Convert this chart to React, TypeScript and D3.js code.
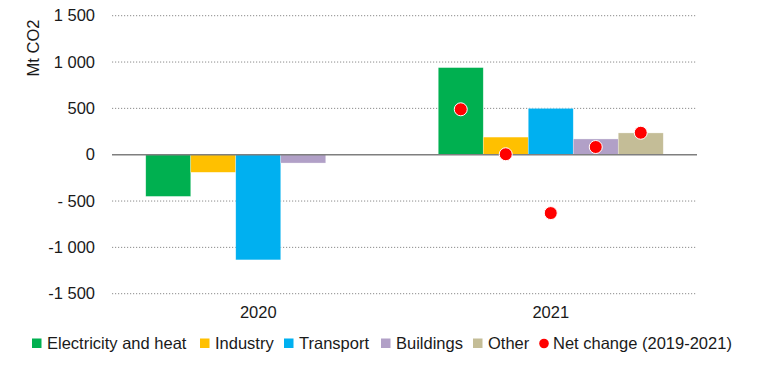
import React, { useEffect, useRef } from 'react';
import * as d3 from 'd3';

const years = ['2020', '2021'];
const sectors = ['Electricity and heat', 'Industry', 'Transport', 'Buildings', 'Other'];
const colors = ['#00B050', '#FFC000', '#00B0F0', '#B1A0C7', '#C4BD97'];

// change in emissions by sector, Mt CO2
const values2020 = [-450, -190, -1135, -90, 0];
const values2021 = [940, 190, 500, 170, 235];
const netChange2021 = [490, 5, -630, 83, 237];

const yTicks = [1500, 1000, 500, 0, -500, -1000, -1500];
const yTickLabels = ['1 500', '1 000', '500', '0', '- 500', '-1 000', '-1 500'];

const font = '"Liberation Sans", Arial, sans-serif';
const fontSize = 16.5;
const textColor = '#1a1a1a';

const App: React.FC = () => {
  const svgRef = useRef<SVGSVGElement>(null);

  useEffect(() => {
    if (!svgRef.current) return;
    const svg = d3.select(svgRef.current);
    svg.selectAll('*').remove();

    const width = 768;
    const height = 367;
    const margin = { top: 16, right: 71, bottom: 73, left: 112 };

    const x = d3.scaleBand<string>()
      .domain(years)
      .range([margin.left, width - margin.right])
      .padding(0);

    const xInner = d3.scaleBand<string>()
      .domain(sectors)
      .range([0, x.bandwidth()])
      .paddingInner(0)
      .paddingOuter(0.75);

    const y = d3.scaleLinear()
      .domain([-1500, 1500])
      .range([height - margin.bottom - 0.3, margin.top - 0.3]);

    // gridlines
    svg.append('g')
      .selectAll('line')
      .data(yTicks.filter(d => d !== 0))
      .enter().append('line')
      .attr('x1', margin.left)
      .attr('x2', width - margin.right)
      .attr('y1', d => y(d))
      .attr('y2', d => y(d))
      .attr('stroke', '#8c8c8c')
      .attr('stroke-width', 1)
      .attr('stroke-dasharray', '1.2,1.8');

    // y tick labels
    svg.append('g')
      .selectAll('text')
      .data(yTicks)
      .enter().append('text')
      .attr('x', 95)
      .attr('y', d => y(d))
      .attr('dy', '0.35em')
      .attr('text-anchor', 'end')
      .attr('font-family', font)
      .attr('font-size', fontSize)
      .attr('fill', textColor)
      .text((d, i) => yTickLabels[i]);

    svg.append('text')
      .attr('transform', 'translate(39,48) rotate(-90)')
      .attr('text-anchor', 'middle')
      .attr('font-family', font)
      .attr('font-size', fontSize)
      .attr('fill', textColor)
      .text('Mt CO2');

    const series = [values2020, values2021];

    years.forEach((year, yi) => {
      const g = svg.append('g').attr('transform', `translate(${x(year)},0)`);
      g.selectAll('rect')
        .data(series[yi].map((v, i) => ({ v, i })).filter(d => d.v !== 0))
        .enter().append('rect')
        .attr('x', d => xInner(sectors[d.i]) as number)
        .attr('width', xInner.bandwidth())
        .attr('y', d => y(Math.max(0, d.v)))
        .attr('height', d => Math.abs(y(d.v) - y(0)))
        .attr('fill', d => colors[d.i])
        .attr('stroke', '#ffffff')
        .attr('stroke-opacity', 0.5)
        .attr('stroke-width', 0.6);
    });

    // zero line
    svg.append('line')
      .attr('x1', margin.left)
      .attr('x2', width - margin.right)
      .attr('y1', y(0))
      .attr('y2', y(0))
      .attr('stroke', '#7f7f7f')
      .attr('stroke-width', 1.5);

    // net change markers
    svg.append('g')
      .attr('transform', `translate(${x('2021')},0)`)
      .selectAll('circle')
      .data(netChange2021)
      .enter().append('circle')
      .attr('cx', (d, i) => (xInner(sectors[i]) as number) + xInner.bandwidth() / 2)
      .attr('cy', d => y(d))
      .attr('r', 6.5)
      .attr('fill', '#FF0000')
      .attr('stroke', '#ffffff')
      .attr('stroke-width', 1);

    // category labels
    svg.append('g')
      .selectAll('text')
      .data(years)
      .enter().append('text')
      .attr('x', d => (x(d) as number) + x.bandwidth() / 2)
      .attr('y', 312)
      .attr('dy', '0.35em')
      .attr('text-anchor', 'middle')
      .attr('font-family', font)
      .attr('font-size', fontSize)
      .attr('fill', textColor)
      .text(d => d);

    // legend
    const legendX = [32, 200, 284, 381, 473];
    const legend = svg.append('g');
    sectors.forEach((s, i) => {
      legend.append('rect')
        .attr('x', legendX[i])
        .attr('y', 338.5)
        .attr('width', 9.5)
        .attr('height', 9.5)
        .attr('fill', colors[i]);
      legend.append('text')
        .attr('x', legendX[i] + 15)
        .attr('y', 348.5)
        .attr('font-family', font)
        .attr('font-size', fontSize)
        .attr('fill', textColor)
        .text(s);
    });
    legend.append('circle')
      .attr('cx', 544)
      .attr('cy', 343.5)
      .attr('r', 4.8)
      .attr('fill', '#FF0000');
    legend.append('text')
      .attr('x', 553)
      .attr('y', 348.5)
      .attr('font-family', font)
      .attr('font-size', fontSize)
      .attr('fill', textColor)
      .text('Net change (2019-2021)');
  }, []);

  return (
    <svg
      ref={svgRef}
      width={768}
      height={367}
      style={{ position: 'absolute', left: 0, top: 0, background: '#ffffff' }}
    />
  );
};

export default App;
